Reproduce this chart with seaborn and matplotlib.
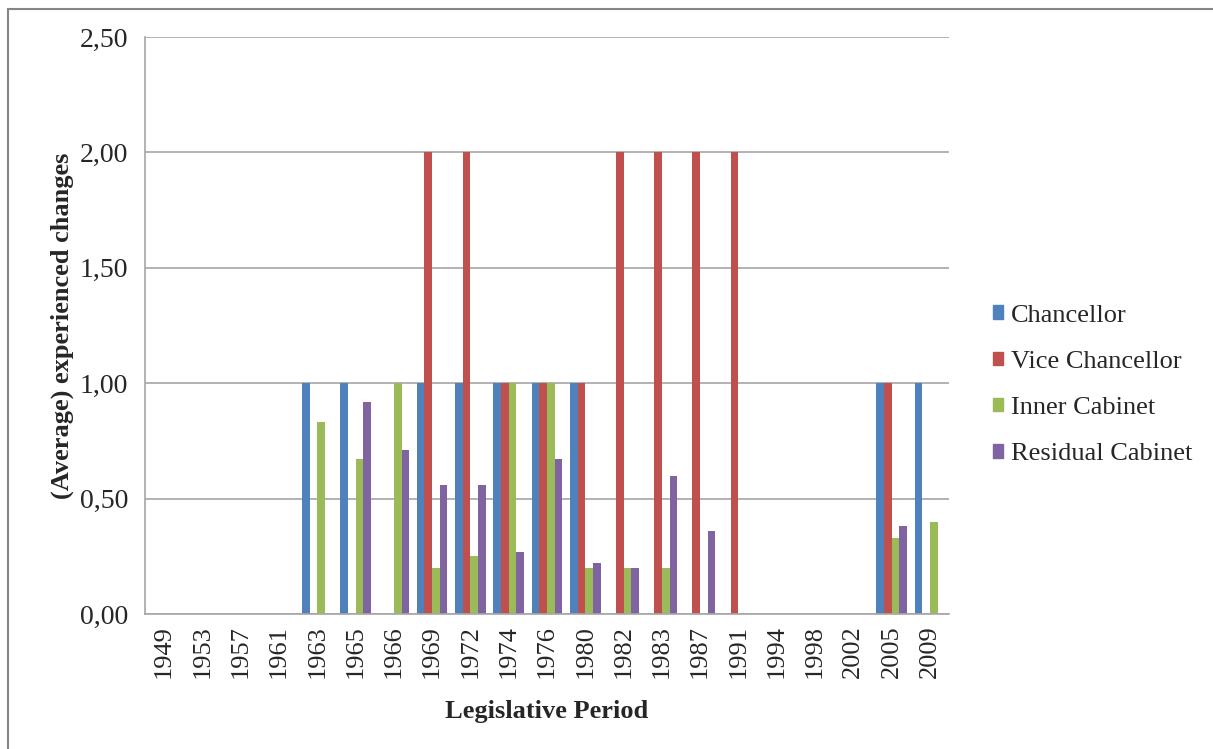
import matplotlib
matplotlib.use("Agg")
import matplotlib.pyplot as plt
import matplotlib.patches as mpatches
import pandas as pd
import seaborn as sns

# data
periods = ['1949', '1953', '1957', '1961', '1963', '1965', '1966', '1969', '1972', '1974', '1976',
           '1980', '1982', '1983', '1987', '1991', '1994', '1998', '2002', '2005', '2009']
chancellor = [0, 0, 0, 0, 1, 1, 0, 1, 1, 1, 1, 1, 0, 0, 0, 0, 0, 0, 0, 1, 1]
vice_chancellor = [0, 0, 0, 0, 0, 0, 0, 2, 2, 1, 1, 1, 2, 2, 2, 2, 0, 0, 0, 1, 0]
inner_cabinet = [0, 0, 0, 0, 0.83, 0.67, 1.0, 0.2, 0.25, 1.0, 1.0, 0.2, 0.2, 0.2, 0, 0, 0, 0, 0, 0.33, 0.4]
residual_cabinet = [0, 0, 0, 0, 0, 0.92, 0.71, 0.56, 0.56, 0.27, 0.67, 0.22, 0.2, 0.6, 0.36, 0, 0, 0, 0, 0.38, 0]

series = ['Chancellor', 'Vice Chancellor', 'Inner Cabinet', 'Residual Cabinet']
colors = ['#4F81BD', '#C0504D', '#9BBB59', '#8064A2']

df = pd.DataFrame({
    'Legislative Period': periods * 4,
    'value': chancellor + vice_chancellor + inner_cabinet + residual_cabinet,
    'role': [s for s in series for _ in periods],
})

sns.set_style("white")
plt.rcParams['font.family'] = ['Liberation Serif', 'DejaVu Serif']

fig = plt.figure(figsize=(12.13, 7.49), dpi=100)
ax = fig.add_axes([145 / 1213, 1 - 614 / 749, (949 - 145) / 1213, (614 - 37) / 749])

sns.barplot(data=df, x='Legislative Period', y='value', hue='role', hue_order=series,
            palette=colors, width=0.8, linewidth=0, saturation=1, ax=ax, legend=False)

ax.set_ylim(0, 2.5)
ax.set_xlim(-0.5, len(periods) - 0.5)
yt = [0, 0.5, 1.0, 1.5, 2.0, 2.5]
ax.set_yticks(yt)
ax.set_yticklabels([f"{v:.2f}".replace('.', ',') for v in yt], fontsize=20)
ax.set_xticks(range(len(periods)))
ax.set_xticklabels(periods, rotation=90, fontsize=19)
ax.yaxis.grid(True, color='#A6A6A6', linewidth=1.2)
ax.set_axisbelow(True)
ax.tick_params(axis='y', length=6, width=1.2, color='#A6A6A6', pad=6)
ax.tick_params(axis='x', length=0, pad=8)
for side in ['top', 'right']:
    ax.spines[side].set_visible(False)
for side in ['left', 'bottom']:
    ax.spines[side].set_color('#A6A6A6')
    ax.spines[side].set_linewidth(1.2)

ax.set_xlabel('Legislative Period', fontsize=19, fontweight='bold', labelpad=16)
ax.set_ylabel('(Average) experienced changes', fontsize=19, fontweight='bold', labelpad=4)

handles = [mpatches.Patch(color=c, label=s) for c, s in zip(colors, series)]
fig.legend(handles=handles, loc='center left', bbox_to_anchor=(969 / 1213, 1 - 385 / 749),
           frameon=False, fontsize=19, handlelength=0.4, handleheight=0.4,
           handletextpad=0.3, labelspacing=0.92)

# outer chart border
fig.patches.append(mpatches.Rectangle((8 / 1213, -0.05), 1.2, (749 - 9) / 749 + 0.05,
                                      transform=fig.transFigure, fill=False,
                                      edgecolor='#868686', linewidth=1.5))

fig.savefig('out.png', dpi=100)
